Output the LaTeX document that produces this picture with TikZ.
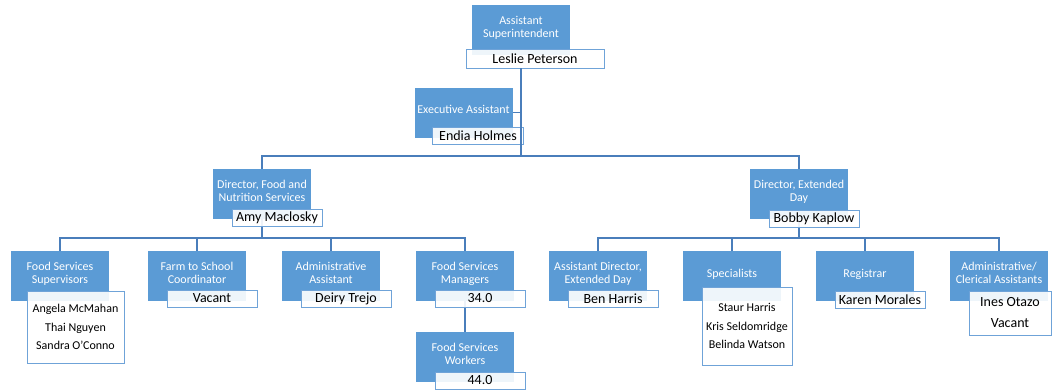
\documentclass[tikz,border=0pt]{standalone}
\usepackage{fontspec}
\setmainfont{Carlito}
\usetikzlibrary{positioning, backgrounds}
\definecolor{boxblue}{HTML}{5B9BD5}
\definecolor{lineblue}{HTML}{4A7EBB}
\definecolor{rimblue}{HTML}{6FA3D8}

\begin{document}
\begin{tikzpicture}[x=1pt,y=1pt,node distance=36pt,line width=1.1pt]

	\tikzset{role/.style={rectangle, draw=none, fill=boxblue, text=white,
			minimum width=98pt, minimum height=50pt, inner sep=2pt, outer sep=0pt,
			align=center, font=\fontsize{12}{13.5}\selectfont,
			execute at end node={\rule[-6pt]{0pt}{6pt}}}}
	\tikzset{holder/.style={rectangle, draw=rimblue, line width=0.9pt,
			fill=white, fill opacity=0.9, text opacity=1, text=black,
			minimum width=90pt, minimum height=17pt, inner sep=1pt, outer sep=0pt,
			align=center, font=\fontsize{14}{16}\selectfont}}
	\tikzset{crew/.style={holder, font=\fontsize{12}{18.5}\selectfont}}
	\tikzset{link/.style={draw=lineblue, line width=1.1pt}}

	\useasboundingbox (0,0) rectangle (1053,-389);

	% top of the chart
	\node[role] (super) at (521,-30) {Assistant\\Superintendent};
	\node[holder, minimum width=138pt, minimum height=19pt,
		below left=-6pt and -34pt of super.south east] (leslie) {Leslie Peterson};
	\node[role] (exec) at (463.5,-112.5) {Executive Assistant};
	\node[holder, minimum width=91pt, below left=-10pt and -11pt of exec.south east] (endia) {Endia Holmes};

	% directors
	\node[role] (dfood) at (262,-194) {Director, Food and\\Nutrition Services};
	\node[holder, below left=-10pt and -11pt of dfood.south east] (amy) {Amy Maclosky};
	\node[role] (dext) at (799,-194) {Director, Extended\\Day};
	\node[holder, below left=-9pt and -11pt of dext.south east] (bobby) {Bobby Kaplow};

	% food and nutrition staff
	\node[role] (fss) at (60,-276) {Food Services\\Supervisors};
	\node[crew, minimum width=97pt, minimum height=72pt,
		below left=-10pt and -15pt of fss.south east] (fssnames) {Angela McMahan\\Thai Nguyen\\Sandra O’Conno};
	\node[role, right=39pt of fss] (farm) {Farm to School\\Coordinator};
	\node[holder, below left=-11pt and -11pt of farm.south east] (farmname) {Vacant};
	\node[role, right=of farm] (admin) {Administrative\\Assistant};
	\node[holder, below left=-11pt and -11pt of admin.south east] (adminname) {Deiry Trejo};
	\node[role, right=of admin] (fsm) {Food Services\\Managers};
	\node[holder, below left=-11pt and -11pt of fsm.south east] (fsmcount) {34.0};
	\node[role, below=31pt of fsm] (fsw) {Food Services\\Workers};
	\node[holder, below left=-10pt and -11pt of fsw.south east] (fswcount) {44.0};

	% extended day staff
	\node[role, right=35pt of fsm] (ad) {Assistant Director,\\Extended Day};
	\node[holder, below left=-11pt and -11pt of ad.south east] (adname) {Ben Harris};
	\node[role, right=of ad] (spec) {Specialists};
	\node[crew, minimum height=78pt, below left=-14pt and -11pt of spec.south east] (specnames) {Staur Harris\\Kris Seldomridge\\Belinda Watson};
	\node[role, right=35pt of spec] (reg) {Registrar};
	\node[holder, below left=-10pt and -11pt of reg.south east] (regname) {Karen Morales};
	\node[role, right=of reg] (clerk) {Administrative/\\Clerical Assistants};
	\node[holder, minimum width=82pt, minimum height=44pt, font=\fontsize{14}{21}\selectfont,
		below left=-10pt and -3pt of clerk.south east] (clerknames) {Ines Otazo\\Vacant};

	\begin{scope}[on background layer]
		\draw[link] (super.south |- leslie.south) -- ++(0,-88) -| (dfood.north);
		\draw[link] (exec.east) -- (exec.east -| super.south);
		\foreach \c in {fss,farm,admin,fsm}
			\draw[link] (dfood.south) -- ++(0,-19) -| (\c.north);
		\foreach \c in {ad,spec,reg,clerk}
			\draw[link] (dext.south) -- ++(0,-19) -| (\c.north);
		\draw[link] (fsm.south) -- (fsw.north);
	\end{scope}
	% trunk runs over the assistant's box
	\draw[link] (super.south |- leslie.south) -- ++(0,-88) -| (dext.north);
\end{tikzpicture}
\end{document}
